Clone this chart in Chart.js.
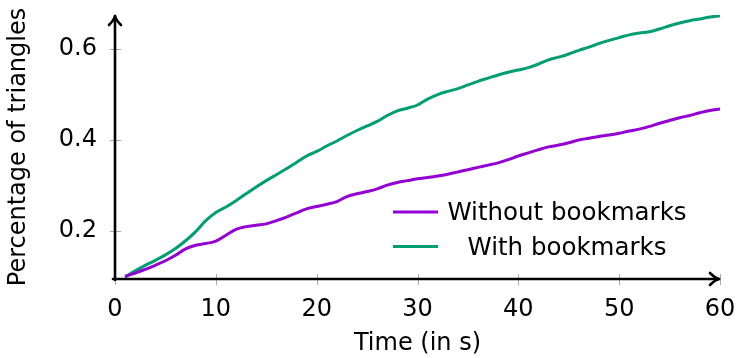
<!DOCTYPE html>
<html>
<head>
<meta charset="utf-8">
<script src="https://cdn.jsdelivr.net/npm/chart.js@4.4.1/dist/chart.umd.min.js"></script>
<style>
  html, body { margin: 0; padding: 0; background: #fff; overflow: hidden; }
  #wrap { width: 737px; height: 358px; }
</style>
</head>
<body>
<div id="wrap"><canvas id="chart"></canvas></div>
<script>
// time in seconds
var times = [1, 2, 3, 4, 5, 6, 7, 8, 9, 10,
  11, 12, 13, 14, 15, 16, 17, 18, 19, 20,
  21, 22, 23, 24, 25, 26, 27, 28, 29, 30,
  31, 32, 33, 34, 35, 36, 37, 38, 39, 40,
  41, 42, 43, 44, 45, 46, 47, 48, 49, 50,
  51, 52, 53, 54, 55, 56, 57, 58, 59, 60];

var withoutBookmarks = [0.100, 0.107, 0.115, 0.124, 0.134, 0.146, 0.160, 0.168, 0.172, 0.177,
  0.190, 0.203, 0.209, 0.212, 0.215, 0.222, 0.230, 0.239, 0.248, 0.253,
  0.258, 0.264, 0.275, 0.281, 0.286, 0.292, 0.300, 0.306, 0.310, 0.314,
  0.317, 0.320, 0.324, 0.329, 0.334, 0.339, 0.344, 0.349, 0.356, 0.364,
  0.371, 0.378, 0.384, 0.388, 0.393, 0.399, 0.403, 0.407, 0.410, 0.414,
  0.419, 0.423, 0.429, 0.436, 0.442, 0.448, 0.453, 0.459, 0.464, 0.467];

var withBookmarks = [0.098, 0.112, 0.124, 0.135, 0.147, 0.161, 0.178, 0.198, 0.222, 0.240,
  0.252, 0.266, 0.281, 0.296, 0.310, 0.323, 0.336, 0.350, 0.364, 0.374,
  0.386, 0.397, 0.409, 0.420, 0.430, 0.440, 0.453, 0.463, 0.469, 0.476,
  0.489, 0.499, 0.506, 0.512, 0.520, 0.528, 0.535, 0.542, 0.548, 0.553,
  0.558, 0.566, 0.575, 0.581, 0.588, 0.596, 0.603, 0.611, 0.618, 0.624,
  0.630, 0.634, 0.637, 0.643, 0.650, 0.656, 0.661, 0.665, 0.669, 0.672];

var xTicks = [0, 10, 20, 30, 40, 50, 60];
var yTicks = [0.2, 0.4, 0.6];
var seriesLabels = ['Without bookmarks', 'With bookmarks'];

var FONT = 'DejaVu Sans';
var purple = '#9400d3';
var green = '#009e73';

function points(ys) {
  return times.map(function (t, i) { return {x: t, y: ys[i]}; });
}

// axes with arrow heads + ticks crossing the axis lines
var axesPlugin = {
  id: 'axes',
  afterDatasetsDraw: function (chart) {
    var ctx = chart.ctx, a = chart.chartArea;
    var xs = chart.scales.x, ys = chart.scales.y;
    ctx.save();
    ctx.strokeStyle = '#aaa';
    ctx.lineWidth = 1;
    xTicks.forEach(function (v) {
      var px = Math.round(xs.getPixelForValue(v)) + 0.5;
      ctx.beginPath(); ctx.moveTo(px, a.bottom - 5); ctx.lineTo(px, a.bottom + 6); ctx.stroke();
    });
    yTicks.forEach(function (v) {
      var py = Math.round(ys.getPixelForValue(v)) + 0.5;
      ctx.beginPath(); ctx.moveTo(a.left - 5, py); ctx.lineTo(a.left + 6, py); ctx.stroke();
    });
    ctx.strokeStyle = '#000';
    ctx.lineWidth = 2.6;
    ctx.lineCap = 'round';
    ctx.lineJoin = 'round';
    // x axis
    ctx.beginPath();
    ctx.moveTo(a.left - 2, a.bottom);
    ctx.lineTo(a.right - 1, a.bottom);
    ctx.stroke();
    ctx.beginPath();
    ctx.moveTo(a.right - 10, a.bottom - 6);
    ctx.quadraticCurveTo(a.right - 5, a.bottom - 1, a.right - 1, a.bottom);
    ctx.quadraticCurveTo(a.right - 5, a.bottom + 1, a.right - 10, a.bottom + 6);
    ctx.stroke();
    // y axis
    ctx.beginPath();
    ctx.moveTo(a.left, a.bottom + 1);
    ctx.lineTo(a.left, a.top + 1);
    ctx.stroke();
    ctx.beginPath();
    ctx.moveTo(a.left - 6, a.top + 10);
    ctx.quadraticCurveTo(a.left - 1, a.top + 5, a.left, a.top + 1);
    ctx.quadraticCurveTo(a.left + 1, a.top + 5, a.left + 6, a.top + 10);
    ctx.stroke();
    ctx.restore();
  }
};

// legend without frame, inside the plot
var legendPlugin = {
  id: 'innerLegend',
  afterDraw: function (chart) {
    var ctx = chart.ctx;
    ctx.save();
    ctx.font = '24.5px "' + FONT + '"';
    ctx.fillStyle = '#000';
    ctx.textAlign = 'center';
    ctx.textBaseline = 'alphabetic';
    chart.data.datasets.forEach(function (ds, i) {
      var y = 212 + i * 34.5;
      ctx.strokeStyle = ds.borderColor;
      ctx.lineWidth = 3;
      ctx.beginPath(); ctx.moveTo(393, y); ctx.lineTo(438, y); ctx.stroke();
      ctx.fillText(ds.label, 567, y + 8);
    });
    ctx.restore();
  }
};

new Chart(document.getElementById('chart'), {
  type: 'line',
  data: {
    datasets: [
      {label: seriesLabels[0], data: points(withoutBookmarks), borderColor: purple, borderWidth: 3, pointRadius: 0, tension: 0.4, fill: false},
      {label: seriesLabels[1], data: points(withBookmarks), borderColor: green, borderWidth: 3, pointRadius: 0, tension: 0.4, fill: false}
    ]
  },
  options: {
    responsive: true,
    maintainAspectRatio: false,
    animation: false,
    layout: {padding: {left: 0, right: 17, top: 15, bottom: 0}},
    plugins: {legend: {display: false}, tooltip: {enabled: false}},
    scales: {
      x: {
        type: 'linear', min: 0, max: 60,
        grid: {display: false, drawTicks: false},
        border: {display: false},
        afterBuildTicks: function (s) { s.ticks = xTicks.map(function (v) { return {value: v}; }); },
        afterFit: function (s) { s.height = 79; s.paddingLeft = 0; s.paddingRight = 0; },
        ticks: {color: '#000', padding: 16, maxRotation: 0, font: {family: FONT, size: 24}},
        title: {display: true, text: 'Time (in s)', color: '#000', padding: {top: 0, bottom: 0}, font: {family: FONT, size: 24}}
      },
      y: {
        min: 0.094, max: 0.6736,
        grid: {display: false, drawTicks: false},
        border: {display: false},
        afterBuildTicks: function (s) { s.ticks = yTicks.map(function (v) { return {value: v}; }); },
        afterFit: function (s) { s.width = 115; s.paddingTop = 0; s.paddingBottom = 0; },
        ticks: {color: '#000', padding: 18, font: {family: FONT, size: 24}, callback: function (v) { return v.toFixed(1); }},
        title: {display: true, text: 'Percentage of triangles', color: '#000', padding: {top: 4, bottom: 0}, font: {family: FONT, size: 24}}
      }
    }
  },
  plugins: [axesPlugin, legendPlugin]
});
</script>
</body>
</html>
